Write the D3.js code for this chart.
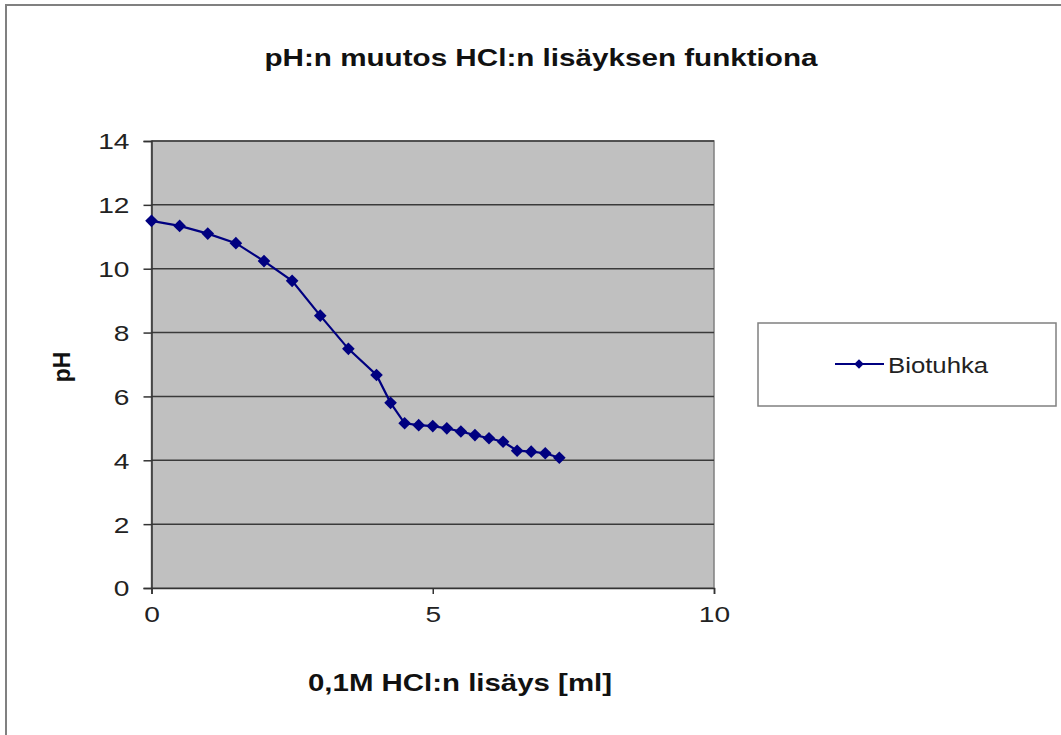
<!DOCTYPE html>
<html><head><meta charset="utf-8">
<script src="https://cdn.jsdelivr.net/npm/d3@7"></script>
<style>body{margin:0;background:#fff}svg{display:block;font-family:"Liberation Sans",Arial,sans-serif}</style>
</head><body>
<script>
const xValues = [0,0.5,1,1.5,2,2.5,3,3.5,4,4.25,4.5,4.75,5,5.25,5.5,5.75,6,6.25,6.5,6.75,7,7.25];
const pHValues = [11.5,11.34,11.1,10.8,10.24,9.62,8.53,7.49,6.67,5.8,5.16,5.1,5.07,5.0,4.9,4.79,4.69,4.58,4.3,4.27,4.22,4.08];
const xTicks = [0,5,10];
const yTicks = [0,2,4,6,8,10,12,14];
const seriesName = "Biotuhka";
const title = "pH:n muutos HCl:n lisäyksen funktiona";
const xTitle = "0,1M HCl:n lisäys [ml]";
const yTitle = "pH";

const W = 1061, H = 735;
const L = 151.5, R = 714, T = 141, B = 588;
const STRETCH = 1.25;
const svg = d3.select("body").append("svg").attr("width", W).attr("height", H);

function stretch(sel, k) {
  sel.each(function(){
    const n = this.getComputedTextLength();
    d3.select(this).attr("textLength", n*k).attr("lengthAdjust","spacingAndGlyphs");
  });
}

// outer frame
svg.append("rect").attr("x",6).attr("y",5).attr("width",W+20).attr("height",H+20)
  .attr("fill","#fff").attr("stroke","#808080").attr("stroke-width",2);

const x = d3.scaleLinear().domain([0,10]).range([L,R]);
const y = d3.scaleLinear().domain([0,14]).range([B,T]);

svg.append("rect").attr("x",L).attr("y",T).attr("width",R-L).attr("height",B-T)
  .attr("fill","#c0c0c0").attr("stroke","#808080").attr("stroke-width",1.5);

// gridlines
svg.append("g").selectAll("line").data(yTicks.filter(d=>d>0)).join("line")
  .attr("x1",L).attr("x2",R).attr("y1",d=>y(d)).attr("y2",d=>y(d))
  .attr("stroke","#3a3a3a").attr("stroke-width",1.5);

// axes
const yAxis = d3.axisLeft(y).tickValues(yTicks).tickSize(8).tickPadding(14).tickFormat(d3.format("d"));
const gy = svg.append("g").attr("transform",`translate(${L},0)`).call(yAxis);
const xAxis = d3.axisBottom(x).tickValues(xTicks).tickSize(6).tickPadding(12).tickFormat(d3.format("d"));
const gx = svg.append("g").attr("transform",`translate(0,${B})`).call(xAxis);
[gx,gy].forEach(g=>{
  g.select(".domain").attr("stroke","#333").attr("stroke-width",1.5);
  g.selectAll(".tick line").attr("stroke","#333").attr("stroke-width",1.5);
  g.selectAll("text").attr("font-size",22.5).attr("fill","#222").attr("font-family","Liberation Sans, Arial, sans-serif");
  stretch(g.selectAll("text"), STRETCH);
});
gy.selectAll("text").attr("dy","0.35em");

// line
const pts = xValues.map((v,i)=>[v,pHValues[i]]);
svg.append("path").datum(pts)
  .attr("d", d3.line().x(d=>x(d[0])).y(d=>y(d[1])))
  .attr("fill","none").attr("stroke","#000080").attr("stroke-width",2.2);
const marker = d3.symbol().type(d3.symbolSquare).size(80);
svg.append("g").selectAll("path").data(pts).join("path")
  .attr("transform",d=>`translate(${x(d[0])},${y(d[1])}) rotate(45)`)
  .attr("d",marker).attr("fill","#000080");

// titles
const t1 = svg.append("text").attr("x",541).attr("y",66).attr("text-anchor","middle")
  .attr("font-weight","bold").attr("font-size",24).attr("fill","#111").text(title);
t1.attr("textLength",553).attr("lengthAdjust","spacingAndGlyphs");
const t2 = svg.append("text").attr("x",460).attr("y",691).attr("text-anchor","middle")
  .attr("font-weight","bold").attr("font-size",24).attr("fill","#111").text(xTitle);
t2.attr("textLength",304).attr("lengthAdjust","spacingAndGlyphs");
svg.append("text").attr("transform","translate(70,367) rotate(-90)").attr("text-anchor","middle")
  .attr("font-weight","bold").attr("font-size",23).attr("fill","#111").text(yTitle);

// legend
svg.append("rect").attr("x",758).attr("y",323).attr("width",298).attr("height",83)
  .attr("fill","#fff").attr("stroke","#808080").attr("stroke-width",1.5);
svg.append("line").attr("x1",835).attr("x2",884).attr("y1",364).attr("y2",364)
  .attr("stroke","#000080").attr("stroke-width",2);
svg.append("path").attr("transform","translate(859,364) rotate(45)").attr("d",d3.symbol().type(d3.symbolSquare).size(45)).attr("fill","#000080");
const lt = svg.append("text").attr("x",888).attr("y",373).attr("font-size",22).attr("fill","#222").text(seriesName);
stretch(lt, 1.17);
</script>
</body></html>
